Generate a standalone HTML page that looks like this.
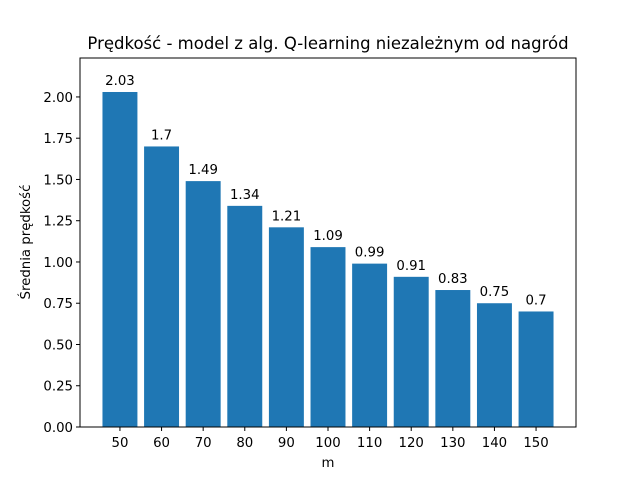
<!DOCTYPE html>
<html><head><meta charset="utf-8"><style>
body{margin:0;background:#fff}
svg{display:block;font-family:"DejaVu Sans","Liberation Sans",sans-serif}
</style></head><body>
<svg id="c" width="640" height="480" viewBox="0 0 640 480">
<rect width="640" height="480" fill="#fff"/>
<text x="328" y="49" text-anchor="middle" font-size="16.5">Prędkość - model z alg. Q-learning niezależnym od nagród</text>
<g id="plot"></g>
<rect x="80" y="58" width="496" height="369" fill="none" stroke="#000" stroke-width="1"/>
<text x="328" y="467" text-anchor="middle" font-size="13.3">m</text>
<text transform="translate(30,242) rotate(-90)" text-anchor="middle" font-size="13.3">Średnia prędkość</text>
</svg>
<script>
const categories=[50,60,70,80,90,100,110,120,130,140,150];
const values=[2.03,1.7,1.49,1.34,1.21,1.09,0.99,0.91,0.83,0.75,0.7];
const labels=["2.03","1.7","1.49","1.34","1.21","1.09","0.99","0.91","0.83","0.75","0.7"];
const yTicks=[0,0.25,0.5,0.75,1.0,1.25,1.5,1.75,2.0];
const L=80,R=576,T=58,B=427;
const x0=40.4,x1=159.6,y0=0,y1=2.236;
const xs=v=>L+(v-x0)/(x1-x0)*(R-L);
const ys=v=>B-(v-y0)/(y1-y0)*(B-T);
const g=document.getElementById('plot');
const NS='http://www.w3.org/2000/svg';
function mk(t,a){const e=document.createElementNS(NS,t);for(const k in a)e.setAttribute(k,a[k]);g.appendChild(e);return e;}
categories.forEach((c,i)=>{
  const r=mk('rect',{x:xs(c-4.2),y:ys(values[i]),width:xs(c+4.2)-xs(c-4.2),height:ys(0)-ys(values[i]),fill:'#1f77b4'});
  
  
  const t=mk('text',{x:xs(c),y:ys(values[i])-7,'text-anchor':'middle','font-size':'13.3'});
  t.textContent=labels[i];
  
  
  const tk=mk('line',{x1:xs(c),x2:xs(c),y1:B,y2:B+4,stroke:'#000'});
  
  
  const tl=mk('text',{x:xs(c),y:B+20,'text-anchor':'middle','font-size':'13.3'});
  tl.textContent=c;
  
  
});
yTicks.forEach(v=>{
  const tk=mk('line',{x1:L-4,x2:L,y1:ys(v),y2:ys(v),stroke:'#000'});
  
  
  const tl=mk('text',{x:L-7,y:ys(v)+5,'text-anchor':'end','font-size':'13.3'});
  tl.textContent=v.toFixed(2);
  
  
});
</script>
</body></html>
